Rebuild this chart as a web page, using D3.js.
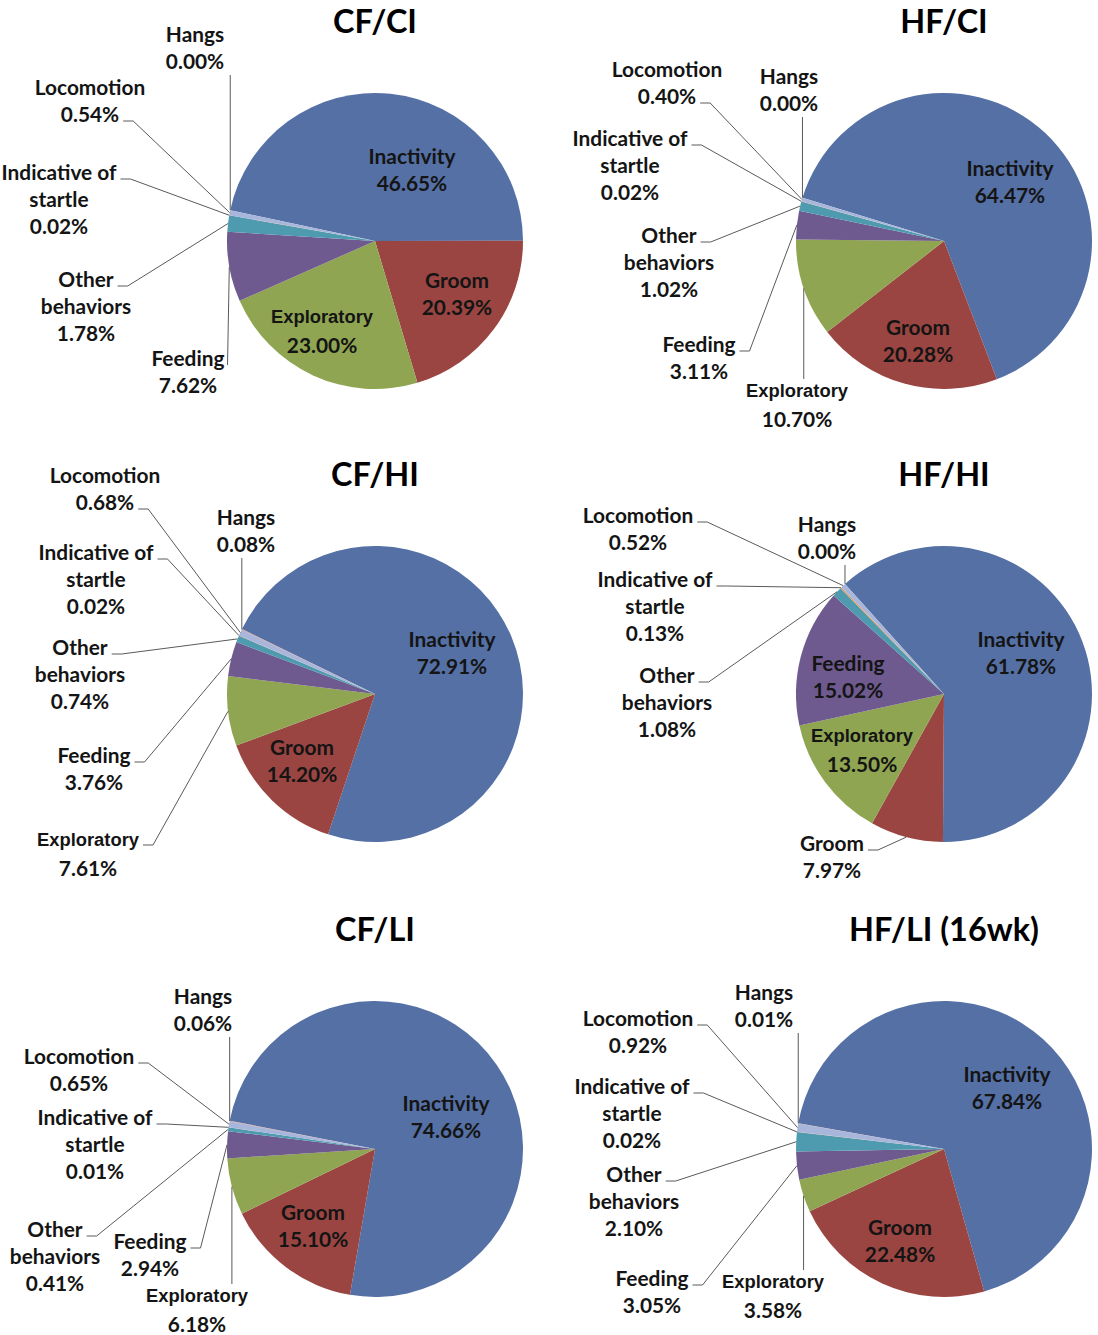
<!DOCTYPE html>
<html>
<head>
<meta charset="utf-8">
<script src="https://cdn.jsdelivr.net/npm/d3@7"></script>
<style>
  body { margin: 0; background: #fff; }
  svg { display: block; }
</style>
</head>
<body>
<div id="container"></div>
<script>
// ---- data ----
const categories = ['Inactivity', 'Groom', 'Exploratory', 'Feeding', 'Other behaviors', 'Indicative of startle', 'Locomotion', 'Hangs'];
const labelLines = [['Inactivity'], ['Groom'], ['Exploratory'], ['Feeding'], ['Other', 'behaviors'], ['Indicative of', 'startle'], ['Locomotion'], ['Hangs']];
const panelTitles = ['CF/CI', 'HF/CI', 'CF/HI', 'HF/HI', 'CF/LI', 'HF/LI (16wk)'];

const cfCi = [46.65, 20.39, 23.00, 7.62, 1.78, 0.02, 0.54, 0.00];
const hfCi = [64.47, 20.28, 10.70, 3.11, 1.02, 0.02, 0.40, 0.00];
const cfHi = [72.91, 14.20, 7.61, 3.76, 0.74, 0.02, 0.68, 0.08];
const hfHi = [61.78, 7.97, 13.50, 15.02, 1.08, 0.13, 0.52, 0.00];
const cfLi = [74.66, 15.10, 6.18, 2.94, 0.41, 0.01, 0.65, 0.06];
const hfLi = [67.84, 22.48, 3.58, 3.05, 2.10, 0.02, 0.92, 0.01];
const panelValues = [cfCi, hfCi, cfHi, hfHi, cfLi, hfLi];

// ---- layout / style ----
const colors = ['#5470a5', '#9a4542', '#8fa552', '#6e5a8e', '#4e9bb0', '#e99a57', '#a8b6dc', '#c89a98'];
const colX = [375, 944];
const rowY = [241, 694, 1149];
const radius = 148;
const startDeg = [282, 287, 296, 318, 281, 280]; // where Inactivity begins, per panel

// label spot per category: [dx, dy of first baseline, leader mode, line the leader hangs on]
const labelSpots = [
  [[37, -77, 'in'], [82, 47, 'in'], [-53, 82, 'in'], [-187, 125, 'side', 0], [-289, 46, 'right', 0], [-316, -61, 'right', 0], [-285, -146, 'right', 1], [-180, -199, 'bottom']],
  [[66, -65, 'in'], [-26, 94, 'in'], [-147, 156, 'top'], [-245, 111, 'right', 0], [-275, 2, 'right', 0], [-314, -95, 'right', 0], [-277, -164, 'right', 1], [-155, -157, 'bottom']],
  [[77, -47, 'in'], [-73, 61, 'in'], [-287, 152, 'right', 0], [-281, 69, 'right', 0], [-295, -39, 'right', 0], [-279, -134, 'right', 0], [-270, -211, 'right', 1], [-129, -169, 'bottom']],
  [[77, -47, 'in'], [-112, 157, 'right', 0], [-82, 48, 'in'], [-96, -23, 'in'], [-277, -11, 'right', 0], [-289, -107, 'right', 0], [-306, -171, 'right', 0], [-117, -162, 'bottom']],
  [[71, -38, 'in'], [-62, 71, 'in'], [-178, 153, 'top'], [-225, 100, 'right', 0], [-320, 88, 'right', 0], [-280, -24, 'right', 0], [-296, -85, 'right', 0], [-172, -145, 'bottom']],
  [[63, -67, 'in'], [-44, 86, 'in'], [-171, 139, 'top'], [-292, 137, 'right', 0], [-310, 33, 'right', 0], [-312, -55, 'right', 0], [-306, -123, 'right', 0], [-180, -149, 'bottom']]
];

const labelFont = 'Lato, "Open Sans", sans-serif';
const expFont = '"Liberation Sans", Arial, sans-serif';
const textColor = '#141414';
const pct = d3.format('.2f');

const svg = d3.select('#container').append('svg')
  .attr('width', 1098)
  .attr('height', 1335);

// size a font so that a sample string spans the target width
function fitSize(text, target, family) {
  const t = svg.append('text')
    .style('font-family', family).style('font-weight', 700).style('font-size', '40px')
    .text(text);
  const w = t.node().getComputedTextLength();
  t.remove();
  return 40 * target / w;
}

const titleSize = fitSize('CF/CI', 84, labelFont);
const labelSize = fitSize('Indicative of', 115, labelFont);
const expSize = fitSize('Exploratory', 102, expFont);

panelValues.forEach((vals, p) => {
  const cx = colX[p % 2], cy = rowY[Math.floor(p / 2)];
  const g = svg.append('g').attr('transform', `translate(${cx},${cy})`);

  const a0 = startDeg[p] * Math.PI / 180;
  const pie = d3.pie().sort(null).value(d => d.value)
    .startAngle(a0).endAngle(a0 + 2 * Math.PI);
  const arcs = pie(categories.map((c, i) => ({ name: c, value: vals[i], i })));
  const arc = d3.arc().innerRadius(0).outerRadius(radius);
  const edge = d3.arc().innerRadius(radius).outerRadius(radius);

  g.selectAll('path.slice')
    .data(arcs)
    .join('path')
    .attr('class', 'slice')
    .attr('d', arc)
    .attr('fill', d => colors[d.data.i]);

  // title
  svg.append('text')
    .attr('x', cx).attr('y', cy - 208)
    .attr('text-anchor', 'middle')
    .style('font-family', labelFont).style('font-weight', 700).style('font-size', titleSize + 'px')
    .style('fill', '#000')
    .text(panelTitles[p]);

  arcs.forEach(d => {
    const [dx, dy, mode, k] = labelSpots[p][d.data.i];
    const lines = labelLines[d.data.i].concat(pct(d.data.value) + '%');
    const label = g.append('text')
      .attr('text-anchor', 'middle')
      .style('font-weight', 700)
      .style('fill', textColor);

    let y = dy;
    const spans = [];
    lines.forEach(ln => {
      const isExp = ln === 'Exploratory';
      const ts = label.append('tspan')
        .attr('x', dx).attr('y', y)
        .style('font-family', isExp ? expFont : labelFont)
        .style('font-size', (isExp ? expSize : labelSize) + 'px')
        .text(ln);
      spans.push({ node: ts.node(), y: y });
      y += isExp ? 30 : 27;
    });

    if (mode === 'in') return;

    /// leader line to the slice edge
    const [ex, ey] = edge.centroid(d);
    let pts;
    if (mode === 'right') {
      const s = spans[k];
      const x0 = dx + s.node.getComputedTextLength() / 2 + 4;
      pts = [[x0, s.y - 1], [x0 + 10, s.y - 1], [ex, ey]];
    } else if (mode === 'side') {
      const s = spans[k];
      pts = [[dx + s.node.getComputedTextLength() / 2 + 3, s.y - 1], [ex, ey]];
    } else if (mode === 'bottom') {
      pts = [[ex, spans[spans.length - 1].y + 6], [ex, ey]];
    } else {
      pts = [[ex, dy - 18], [ex, ey]];
    }
    g.append('path')
      .attr('d', d3.line()(pts))
      .attr('fill', 'none')
      .attr('stroke', '#5a5a5a')
      .attr('stroke-width', 1);
  });
});
</script>
</body>
</html>
